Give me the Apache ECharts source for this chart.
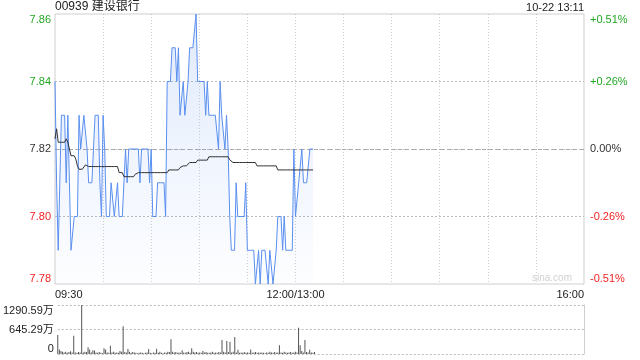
<!DOCTYPE html>
<html>
<head>
<meta charset="utf-8">
<script src="https://cdn.jsdelivr.net/npm/echarts@6/dist/echarts.min.js"></script>
<style>
html,body{margin:0;padding:0;background:#fff;}
#c{width:640px;height:360px;}
</style>
</head>
<body>
<div id="c"></div>
<script>
var stockTitle = '00939 建设银行';
var stampText = '10-22 13:11';
var prevClose = 7.82;
var priceTicks = [7.78, 7.80, 7.82, 7.84, 7.86];
var volTickLabels = ['0', '645.29万', '1290.59万'];
var volMax = 1290.59;

var prices = [
7.84,7.81,7.79,7.81,7.83,7.83,7.83,7.81,7.83,7.81,
7.79,7.79,7.80,7.80,7.80,7.83,7.82,7.82,7.83,7.83,
7.82,7.81,7.81,7.81,7.81,7.83,7.83,7.83,7.81,7.80,
7.83,7.82,7.80,7.80,7.80,7.81,7.81,7.80,7.80,7.81,
7.80,7.80,7.80,7.80,7.82,7.81,7.82,7.82,7.82,7.82,
7.82,7.82,7.82,7.81,7.82,7.82,7.82,7.82,7.82,7.81,
7.82,7.80,7.80,7.80,7.81,7.81,7.81,7.81,7.81,7.80,
7.84,7.84,7.84,7.85,7.85,7.85,7.84,7.85,7.83,7.83,
7.84,7.83,7.83,7.84,7.85,7.85,7.85,7.85,7.86,7.84,
7.84,7.84,7.84,7.84,7.83,7.84,7.83,7.83,7.83,7.83,
7.83,7.83,7.82,7.84,7.83,7.83,7.82,7.83,7.82,7.80,
7.79,7.79,7.79,7.81,7.80,7.80,7.80,7.80,7.80,7.81,
7.79,7.79,7.79,7.79,7.79,7.78,7.78,7.79,7.78,7.79,
7.79,7.79,7.79,7.78,7.79,7.79,7.78,7.78,7.79,7.80,
7.80,7.80,7.79,7.80,7.79,7.79,7.79,7.79,7.79,7.82,
7.80,7.80,7.81,7.81,7.82,7.81,7.81,7.81,7.81,7.82,
7.82,7.82
];

var avgPrices = [
7.823,7.826,7.822,7.822,7.822,7.822,7.822,7.823,7.822,7.820,
7.818,7.818,7.818,7.817,7.815,7.814,7.814,7.814,7.8145,7.8153,
7.815,7.8148,7.8148,7.8148,7.8148,7.8148,7.8148,7.8148,7.8148,7.8148,
7.8148,7.8148,7.8148,7.8148,7.8148,7.8148,7.8148,7.8148,7.8148,7.8148,
7.813,7.813,7.813,7.8118,7.8118,7.8118,7.8118,7.8118,7.8118,7.8118,
7.8125,7.813,7.813,7.813,7.813,7.813,7.813,7.813,7.813,7.813,
7.813,7.813,7.813,7.813,7.813,7.813,7.813,7.813,7.813,7.813,
7.813,7.8138,7.8138,7.8138,7.8138,7.8138,7.8138,7.8138,7.8145,7.8145,
7.815,7.815,7.815,7.815,7.816,7.816,7.816,7.816,7.816,7.8167,
7.8167,7.8167,7.8167,7.8167,7.8167,7.8167,7.8177,7.8177,7.8177,7.8177,
7.8177,7.8177,7.8177,7.8177,7.8177,7.8177,7.8177,7.8177,7.8177,7.8168,
7.8168,7.816,7.816,7.816,7.816,7.816,7.816,7.816,7.816,7.816,
7.816,7.816,7.816,7.816,7.816,7.816,7.815,7.815,7.815,7.815,
7.815,7.815,7.815,7.815,7.815,7.815,7.815,7.815,7.815,7.8138,
7.8138,7.8138,7.8138,7.8138,7.8138,7.8138,7.8138,7.8138,7.8138,7.8138,
7.8138,7.8138,7.8138,7.8138,7.8138,7.8138,7.8138,7.8138,7.8138,7.8138,
7.8138,7.8138
];

var volumes = [
500,120,80,60,40,60,30,50,70,40,
480,40,30,50,40,1290.59,40,60,50,180,
120,40,100,90,40,30,50,30,20,150,
120,40,30,220,40,60,30,40,30,80,
60,730,50,40,130,60,30,50,40,30,
20,30,40,30,20,30,40,130,30,20,
40,30,140,30,60,30,20,40,30,60,
50,390,60,40,50,30,40,30,100,40,
30,50,60,30,150,60,40,50,30,40,
30,80,40,50,30,30,40,60,30,40,
30,50,40,370,60,40,340,50,320,40,
60,450,40,110,30,40,30,50,30,40,
30,120,30,40,50,30,40,30,40,30,
20,40,30,60,40,30,50,30,40,230,
40,30,60,40,30,40,50,30,40,60,
40,690,230,80,40,370,50,40,110,40,
30,50
];

// time axis categories 09:30..12:00 then 13:01..16:00 (12:00/13:00 merged)
var times = [];
function pad(n){return (n<10?'0':'')+n;}
for (var m = 0; m <= 330; m++) {
  var t = m <= 150 ? (9*60+30+m) : (13*60 + (m-150));
  times.push(pad(Math.floor(t/60)) + ':' + pad(t%60));
}

var FONT = 'Arial, "Liberation Sans", "Noto Sans CJK SC", sans-serif';
var GREEN = '#22a722', RED = '#f22323', DARK = '#333';
var GRIDC = '#8a8a8a';
var HGRIDC = '#bdbdbd';

function priceColor(v){
  v = Number(v);
  if (v > prevClose + 0.0001) return GREEN;
  if (v < prevClose - 0.0001) return RED;
  return DARK;
}

var chart = echarts.init(document.getElementById('c'), null, {renderer:'canvas'});
chart.setOption({
  animation: false,
  backgroundColor: '#fff',
  textStyle: {fontFamily: FONT},
  grid: [
    {left: 55, right: 56, top: 14, height: 270, show: true, borderColor: '#cfcfcf', borderWidth: 1, backgroundColor: 'transparent'},
    {left: 55, right: 56, top: 305, height: 49}
  ],
  graphic: [
    {type: 'text', left: 55, top: 1, style: {text: stockTitle, fontSize: 12, fill: '#222', fontFamily: FONT}},
    {type: 'text', right: 56, top: 2, style: {text: stampText, fontSize: 11, fill: '#222', fontFamily: FONT}},
    {type: 'text', left: 532, top: 273, style: {text: 'sina.com', fontSize: 10, fill: '#d0d0d0', fontFamily: FONT}, z: 1}
  ],
  xAxis: [
    {
      type: 'category', gridIndex: 0, data: times, boundaryGap: false,
      axisLine: {show: false}, axisTick: {show: false},
      axisLabel: {
        show: true, fontSize: 11, color: '#222', margin: 5, hideOverlap: false,
        interval: function(i){ return i === 0 || i === 150 || i === 330; },
        formatter: function(v, i){ return i === 150 ? '12:00/13:00' : v; },
        alignMinLabel: 'left', alignMaxLabel: 'right'
      },
      splitLine: {
        show: true,
        interval: function(i){ return i % 30 === 0 && i !== 0 && i !== 330; },
        lineStyle: {color: GRIDC, type: [1, 2], width: 1, opacity: 0.4}
      }
    },
    {
      type: 'category', gridIndex: 1, data: times, boundaryGap: false,
      axisLine: {show: false}, axisTick: {show: false}, axisLabel: {show: false}, splitLine: {show: false}
    }
  ],
  yAxis: [
    {
      type: 'value', gridIndex: 0, min: 7.78, max: 7.86, interval: 0.02, position: 'left',
      axisLine: {show: false}, axisTick: {show: false},
      axisLabel: {
        fontSize: 11, margin: 4,
        formatter: function(v){ return Number(v).toFixed(2); },
        color: function(v){ return priceColor(v); },
        verticalAlignMinLabel: 'bottom', verticalAlignMaxLabel: 'top'
      },
      splitLine: {show: true, showMinLine: false, showMaxLine: false, lineStyle: {color: HGRIDC, type: [2, 2], width: 1}}
    },
    {
      type: 'value', gridIndex: 0, min: 7.78, max: 7.86, interval: 0.02, position: 'right',
      axisLine: {show: false}, axisTick: {show: false}, splitLine: {show: false},
      axisLabel: {
        fontSize: 11, margin: 6,
        formatter: function(v){
          var p = (Number(v) - prevClose) / prevClose * 100;
          if (Math.abs(p) < 0.001) return '0.00%';
          return (p > 0 ? '+' : '') + p.toFixed(2) + '%';
        },
        color: function(v){ return priceColor(v); },
        verticalAlignMinLabel: 'bottom', verticalAlignMaxLabel: 'top'
      }
    },
    {
      type: 'value', gridIndex: 1, min: 0, max: volMax, interval: volMax / 2, position: 'left',
      axisLine: {show: false}, axisTick: {show: false},
      axisLabel: {
        fontSize: 11, margin: 4, color: '#222',
        formatter: function(v, i){ return volTickLabels[i]; },
        verticalAlignMinLabel: 'bottom', verticalAlignMaxLabel: 'top'
      },
      splitLine: {show: true, lineStyle: {color: HGRIDC, type: [2, 2], width: 1}}
    },
    {
      type: 'value', gridIndex: 1, min: 0, max: volMax, position: 'right',
      axisLine: {show: true, lineStyle: {color: '#cfcfcf'}}, axisTick: {show: false},
      axisLabel: {show: false}, splitLine: {show: false}
    }
  ],
  series: [
    {
      type: 'line', name: 'price', xAxisIndex: 0, yAxisIndex: 0, data: prices,
      showSymbol: false, symbol: 'none', z: 3,
      lineStyle: {color: '#5a8ff0', width: 1},
      areaStyle: {
        origin: 'start',
        color: new echarts.graphic.LinearGradient(0, 0, 0, 1, [
          {offset: 0, color: 'rgba(90,143,240,0.26)'},
          {offset: 1, color: 'rgba(90,143,240,0.02)'}
        ])
      },
      markLine: {
        silent: true, symbol: 'none', label: {show: false}, z: 1,
        lineStyle: {color: '#aaaaaa', type: [4, 3], width: 1},
        data: [{yAxis: prevClose}]
      }
    },
    {
      type: 'line', name: 'avg', xAxisIndex: 0, yAxisIndex: 0, data: avgPrices,
      showSymbol: false, symbol: 'none', z: 4,
      lineStyle: {color: '#333', width: 1}
    },
    {
      type: 'bar', name: 'vol', xAxisIndex: 1, yAxisIndex: 2, data: volumes,
      barWidth: 1, itemStyle: {color: '#555'}
    }
  ]
});
</script>
</body>
</html>
